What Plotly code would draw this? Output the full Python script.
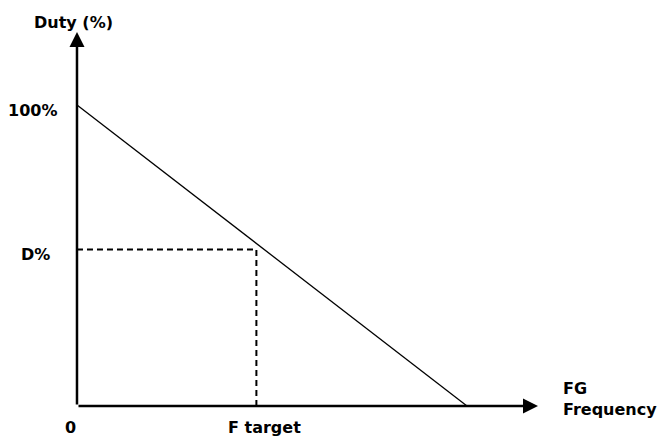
import plotly.graph_objects as go

# Data
freq = [0, 100]          # FG frequency (relative units)
duty = [100, 0]          # duty (%)
f_target = 46            # F target position
d_percent = 52           # D% level
x_axis_end = 118.2
y_axis_end = 124.3

FONT = dict(family="DejaVu Sans", size=16, color="black")

fig = go.Figure()

# Main duty vs frequency line
fig.add_trace(go.Scatter(x=freq, y=duty, mode="lines",
                         line=dict(color="black", width=1.3),
                         hoverinfo="skip", showlegend=False))

# Dashed guide lines
fig.add_trace(go.Scatter(x=[0, f_target, f_target], y=[d_percent, d_percent, 0],
                         mode="lines",
                         line=dict(color="black", width=2, dash="6px,4px"),
                         hoverinfo="skip", showlegend=False))

# Axes with arrowheads
arrow = dict(showarrow=True, arrowhead=2, arrowsize=1.2, arrowwidth=2.5,
             arrowcolor="black", axref="x", ayref="y", text="")
fig.add_annotation(x=0, y=y_axis_end, ax=0, ay=0, **arrow)
fig.add_annotation(x=x_axis_end, y=0, ax=0, ay=0, **arrow)

def label(x, y, text, xanchor="center", align="center"):
    fig.add_annotation(x=x, y=y, text=text, showarrow=False, font=FONT,
                       xanchor=xanchor, yanchor="middle", align=align)

label(-1.0, 127.4, "<b>Duty (%)</b>")
label(-4.6, 98.3, "<b>100%</b>", xanchor="right")
label(-6.4, 50.5, "<b>D%</b>", xanchor="right")
label(-1.7, -7, "<b>0</b>")
label(f_target + 2, -7, "<b>F target</b>")
label(124.0, 2.3, "<b>FG<br>Frequency</b>", xanchor="left", align="left")

fig.update_layout(
    width=662, height=437,
    margin=dict(l=0, r=0, t=0, b=0),
    paper_bgcolor="white", plot_bgcolor="white",
    xaxis=dict(range=[-19.74, 150], visible=False, fixedrange=True),
    yaxis=dict(range=[-10.3, 134.9], visible=False, fixedrange=True),
    showlegend=False,
)

fig.write_html("out.html", config={"displayModeBar": False},
               post_script="document.body.style.margin='0';document.body.style.overflow='hidden';")
